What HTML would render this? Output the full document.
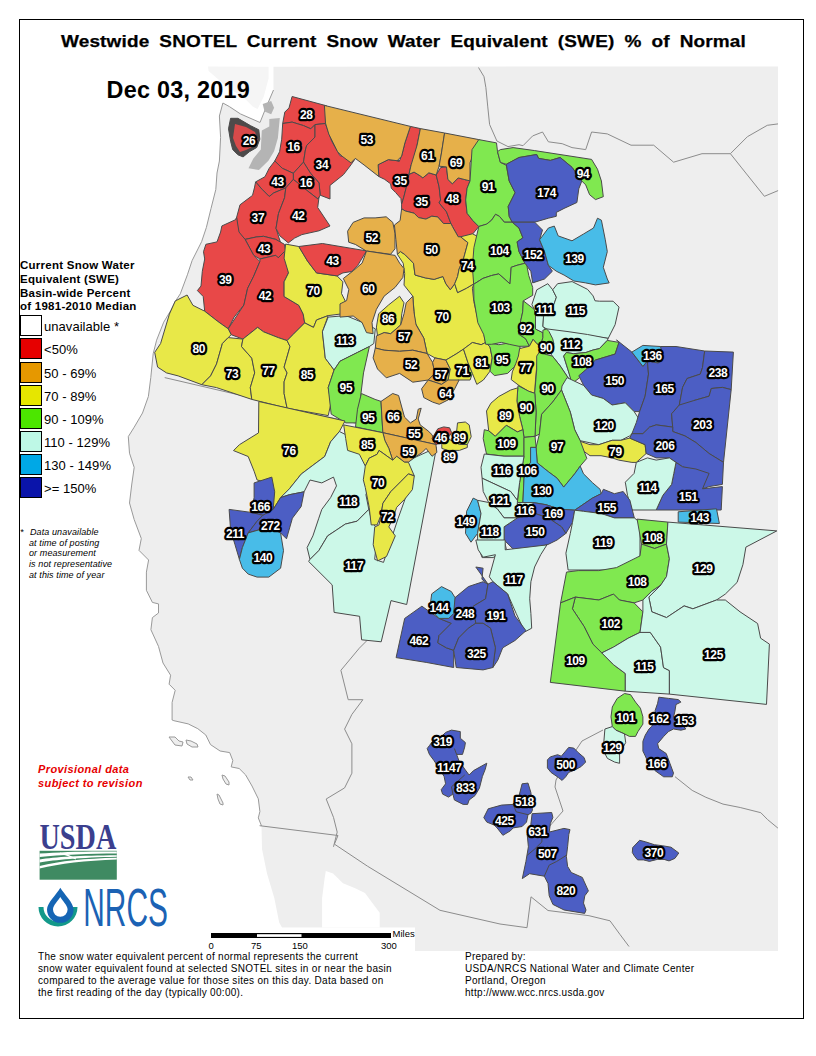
<!DOCTYPE html>
<html><head><meta charset="utf-8">
<style>
html,body{margin:0;padding:0;background:#fff;}
body{width:816px;height:1056px;position:relative;overflow:hidden;font-family:"Liberation Sans",sans-serif;}
.abs{position:absolute;white-space:nowrap;}
#frame{position:absolute;left:19px;top:19px;width:783px;height:998px;border:1px solid #000;}
#title{left:60.5px;top:32px;font-size:16.5px;font-weight:bold;color:#000;transform-origin:0 0;transform:scaleX(1.15);letter-spacing:0.13px;word-spacing:3.98px;-webkit-text-stroke:0.25px #000;}
#date{left:106.5px;top:77.2px;font-size:23.4px;font-weight:bold;color:#000;letter-spacing:0.25px;}
svg#map{position:absolute;left:0;top:0;}
#polys polygon{stroke:#4a4a4a;stroke-width:1;stroke-linejoin:round;}
.r{fill:#e84848}.o{fill:#e6b04a}.y{fill:#e8e848}.g{fill:#80e850}.c{fill:#ccf8e8}.b{fill:#48bce8}.d{fill:#4c5ec4}.u{fill:#f0f0f0}.k{fill:#4e4a4a}#polys polygon.r2{fill:#d84a4a;stroke:none}
#labels text{font-family:"Liberation Sans",sans-serif;font-weight:bold;font-size:12px;fill:#fff;stroke:#000;stroke-width:4.5px;paint-order:stroke;stroke-linejoin:round;text-anchor:middle;letter-spacing:-0.4px;}
.lg{left:20px;font-size:11.5px;font-weight:bold;letter-spacing:0.25px;}
.box{position:absolute;left:20px;width:20px;height:19px;border:1px solid #000;}
.lt{left:44px;font-size:13px;letter-spacing:0.05px;}
.note{font-size:9px;font-style:italic;letter-spacing:0.1px;}
.bt{font-size:10px;letter-spacing:0.3px;}
</style></head><body>
<svg id="map" width="816" height="1056" viewBox="0 0 816 1056">
<g id="land"><polygon points="273.5,66.7 778.0,66.5 778.0,951.0 282.0,951.0 282.0,927.5 279.2,922.5 274.3,898.0 267.0,873.5 262.0,849.0 261.5,825.9 258.3,817.9 259.9,811.5 258.3,798.8 252.0,786.0 245.6,774.9 239.2,768.5 231.2,766.9 232.8,760.5 229.7,752.6 220.1,751.0 210.5,744.6 205.8,735.0 197.8,728.7 188.2,723.9 173.9,720.7 172.1,720.0 172.1,702.4 175.2,690.3 169.1,684.2 170.6,675.2 163.0,663.0 158.5,646.4 150.9,629.7 152.4,617.6 158.5,613.0 158.5,603.9 152.4,602.4 146.4,590.3 146.4,572.1 148.6,560.0 139.0,550.4 141.3,538.5 134.2,519.6 129.5,503.0 131.8,484.0 134.2,467.4 129.5,453.2 128.3,436.6 134.2,427.2 142.5,413.0 148.4,396.4 150.8,377.4 153.2,353.7 156.6,340.2 163.7,322.2 170.8,310.4 175.5,301.0 180.3,293.8 187.4,274.8 192.1,260.6 201.6,241.7 206.4,227.4 211.0,208.5 215.8,189.5 217.0,173.0 219.4,161.0 220.6,137.4 219.4,116.0 222.9,103.0 229.4,106.6 240.4,113.9 260.0,122.5 265.0,110.0 273.5,90.0" fill="#eeeeee"/><polyline points="261.5,825.9 258.3,817.9 259.9,811.5 258.3,798.8 252.0,786.0 245.6,774.9 239.2,768.5 231.2,766.9 232.8,760.5 229.7,752.6 220.1,751.0 210.5,744.6 205.8,735.0 197.8,728.7 188.2,723.9 173.9,720.7 172.1,720.0 172.1,702.4 175.2,690.3 169.1,684.2 170.6,675.2 163.0,663.0 158.5,646.4 150.9,629.7 152.4,617.6 158.5,613.0 158.5,603.9 152.4,602.4 146.4,590.3 146.4,572.1 148.6,560.0 139.0,550.4 141.3,538.5 134.2,519.6 129.5,503.0 131.8,484.0 134.2,467.4 129.5,453.2 128.3,436.6 134.2,427.2 142.5,413.0 148.4,396.4 150.8,377.4 153.2,353.7 156.6,340.2 163.7,322.2 170.8,310.4 175.5,301.0 180.3,293.8 187.4,274.8 192.1,260.6 201.6,241.7 206.4,227.4 211.0,208.5 215.8,189.5 217.0,173.0 219.4,161.0 220.6,137.4 219.4,116.0 222.9,103.0 229.4,106.6 240.4,113.9 260.0,122.5 265.0,110.0 273.5,90.0" fill="none" stroke="#9a9a9a" stroke-width="1"/><polygon points="208.0,66.5 268.6,66.7 268.6,78.4 263.7,96.8 257.6,109.0 252.7,106.6 242.9,96.8 230.6,89.4 218.4,79.6 208.6,71.0" fill="#f5f5f5"/></g><g fill="#b4b4b4"><polygon points="262.7,103.9 271.2,101.1 274.1,107.7 271.2,114.3 264.6,111.5"/><polygon points="269.3,119.0 279.8,118.1 277.9,138.0 274.1,151.2 268.4,160.7 258.9,170.1 248.5,168.3 253.2,158.8 260.8,149.4 261.8,130.4 269.3,126.6"/></g><g fill="none" stroke="#8c8c8c" stroke-width="1"><polyline points="675.0,776.7 692.2,790.4 705.9,797.3 723.0,804.1 740.2,807.5 760.8,812.7 767.6,819.6 777.9,828.1"/><polyline points="164.7,377.6 202.9,386.5 247.1,396.8 285.3,408.5 329.4,417.4 355.9,423.2 390.0,430.6 440.0,441.0"/><polyline points="259.6,825.7 338.0,835.5 334.4,844.1 367.5,866.2 440.0,910.3 500.0,924.0 527.0,927.7 531.0,896.8 548.0,910.5 589.0,915.7 610.0,920.8 620.0,934.5 629.0,946.5"/><polyline points="370.3,637.2 359.3,648.2 340.9,670.3 348.2,699.7 362.9,699.7 351.9,714.4 344.6,729.1 351.9,743.8 351.9,773.2 344.6,787.9 326.2,799.0 333.5,817.4 337.2,832.1 333.5,846.8"/><polyline points="478.5,67.5 484.0,76.7 485.9,87.7 487.7,106.1 489.6,124.5 496.9,141.0 508.0,146.6 519.0,144.7 523.0,145.7 532.7,135.9 542.5,132.0 548.4,141.8 562.2,143.7 572.0,147.6 585.7,149.6 591.6,132.0 607.3,133.9 631.0,145.2 653.7,145.2 673.6,162.2 702.0,153.7 730.4,153.7 747.4,136.7 767.3,125.3 778.0,123.9"/><polyline points="603.0,730.0 582.0,741.0 574.0,753.0 566.0,762.0 556.0,780.0 555.0,787.0 563.0,811.0 548.0,828.0"/><polyline points="730.4,153.7 741.7,167.9 764.4,196.3 778.1,190.6"/></g><polygon points="325.8,871.0 333.1,873.5 343.0,883.3 355.2,888.2 365.0,893.1 372.4,903.0 379.7,912.7 379.7,927.5 322.1,927.5 322.1,898.0 324.6,878.4" fill="#fff"/><rect x="205" y="927.5" width="210" height="24" fill="#fff"/>
<g id="polys"><polygon class="k" points="230.6,118.3 237.9,118.3 250.4,125.6 258.8,129.8 259.8,139.2 256.7,147.5 249.4,151.7 243.1,156.9 237.9,154.8 232.7,149.6 230.6,141.2 228.5,128.8"/>
<polygon class="r2" points="235.0,124.0 246.0,127.0 255.0,132.0 258.0,140.0 254.0,146.0 246.0,150.0 240.0,152.0 236.0,146.0 233.0,138.0"/>
<polygon class="r" points="292.1,96.5 326.5,105.8 325.4,123.5 315.0,124.6 310.8,128.8 303.5,125.6 292.1,122.1 282.7,123.5 284.8,112.1 289.0,107.9"/>
<polygon class="r" points="282.7,123.5 292.1,122.1 303.5,125.6 310.8,128.8 315.0,124.6 315.0,137.1 306.7,145.4 305.4,150.0 303.5,162.1 293.3,173.3 282.3,168.3 274.8,161.0 279.6,151.7 281.7,139.2"/>
<polygon class="r" points="315.0,124.6 325.4,123.5 331.7,141.2 340.0,155.8 355.8,157.9 351.0,164.8 343.5,174.6 330.0,185.4 330.0,199.0 320.2,195.2 319.0,182.9 310.4,173.1 303.5,162.1 305.4,150.0 306.7,145.4 315.0,137.1"/>
<polygon class="r" points="293.3,173.3 303.5,162.1 310.4,173.1 319.0,182.9 320.2,195.2 317.9,199.0 306.9,190.4 293.3,179.4"/>
<polygon class="r" points="274.8,161.0 282.3,168.3 293.3,173.3 293.3,179.4 285.8,187.9 273.8,192.9 269.2,196.5 261.9,189.2 255.6,181.9 265.0,176.7 269.2,168.3"/>
<polygon class="r" points="255.6,181.9 261.9,189.2 269.2,196.5 273.8,192.9 285.8,187.9 284.6,197.7 278.5,213.5 276.0,228.3 280.7,243.1 275.8,239.4 263.5,236.3 256.2,237.0 245.1,239.4 237.8,232.0 236.6,217.4 240.0,204.8 252.5,195.4 254.6,187.1"/>
<polygon class="r" points="293.3,179.4 306.9,190.4 317.9,199.0 319.0,197.3 317.7,207.5 330.0,226.0 319.0,230.8 301.9,234.6 294.6,238.1 288.3,242.9 279.8,235.8 276.0,228.3 278.5,213.5 284.6,197.7 285.8,187.9"/>
<polygon class="r" points="245.1,239.4 253.7,255.3 259.9,259.0 275.8,255.3 278.2,257.8 285.6,250.4 284.4,244.3 275.8,239.4 263.5,236.3 256.2,237.0"/>
<polygon class="r" points="236.6,217.4 239.0,232.0 245.1,239.4 253.7,255.3 259.9,261.5 253.7,276.2 247.6,288.4 243.9,305.0 234.1,317.1 228.2,328.8 217.9,321.5 204.7,311.2 203.2,296.5 197.4,290.6 201.0,286.0 202.3,271.3 204.7,259.0 203.5,251.7 205.9,244.3 217.0,241.9 220.6,232.0 221.9,225.9 235.3,219.8"/>
<polygon class="r" points="259.9,259.0 275.8,255.3 278.2,257.8 285.6,250.4 288.5,272.9 284.1,281.8 284.1,296.5 298.8,305.3 303.2,314.1 304.7,322.9 292.9,334.7 287.1,340.6 278.2,337.6 263.5,331.8 257.6,327.4 242.9,339.1 231.2,334.7 228.2,328.8 243.9,305.0 247.6,288.4 253.7,276.2 259.9,261.5"/>
<polygon class="y" points="285.6,244.1 298.8,246.5 307.6,261.2 316.5,272.9 337.1,275.9 342.9,281.8 341.5,293.5 347.4,305.3 340.0,314.1 328.2,315.6 316.5,320.0 313.5,327.4 304.7,322.9 303.2,314.1 298.8,305.3 284.1,296.5 284.1,281.8 288.5,272.9 284.1,258.2"/>
<polygon class="r" points="298.8,246.5 322.4,243.5 366.5,250.9 357.6,265.6 351.8,271.5 342.9,272.9 337.1,275.9 316.5,272.9 307.6,261.2"/>
<polygon class="y" points="175.3,300.9 187.1,295.0 192.9,305.3 204.7,311.2 217.9,321.5 228.2,328.8 231.2,334.7 228.2,337.6 222.4,343.5 216.5,364.1 210.6,375.9 201.8,384.7 178.2,375.9 166.5,372.9 157.6,367.1 154.7,352.4 160.6,343.5 169.4,314.1"/>
<polygon class="y" points="228.2,337.6 242.9,339.1 241.5,346.5 251.8,358.2 254.7,372.9 250.3,387.6 251.8,399.4 216.5,387.6 201.8,384.7 210.6,375.9 216.5,364.1 222.4,343.5"/>
<polygon class="y" points="242.9,339.1 257.6,327.4 263.5,331.8 278.2,337.6 287.1,340.6 290.0,346.5 284.1,367.1 287.1,372.9 284.1,381.8 284.1,393.5 287.1,408.2 251.8,399.4 250.3,387.6 254.7,372.9 251.8,358.2 241.5,346.5"/>
<polygon class="y" points="287.1,340.6 292.9,334.7 304.7,322.9 313.5,327.4 316.5,320.0 328.2,315.6 322.4,331.8 325.3,358.2 334.1,370.0 328.2,387.6 331.2,402.4 328.2,415.6 287.1,408.2 284.1,393.5 284.1,381.8 287.1,372.9 284.1,367.1 290.0,346.5"/>
<polygon class="c" points="328.2,317.1 345.9,315.6 363.5,322.9 375.3,328.8 373.8,343.5 369.4,346.5 357.6,352.4 340.0,361.2 334.1,370.0 325.3,358.2 322.4,331.8"/>
<polygon class="g" points="334.1,370.0 340.0,361.2 357.6,352.4 369.4,346.5 363.5,372.9 360.6,396.5 357.6,422.9 345.9,422.9 331.2,414.1 328.2,387.6"/>
<polygon class="r" points="410.4,126.4 420.4,128.6 417.1,145.1 413.8,162.8 411.2,164.7 409.0,174.3 406.8,185.3 403.8,197.1 401.6,204.4 400.9,198.5 395.7,192.6 391.3,188.2 390.6,183.8 384.7,179.4 378.8,176.5 378.1,164.7 388.4,159.6 399.4,161.0 401.6,155.9 404.9,142.9"/>
<polygon class="o" points="324.4,105.4 410.4,126.4 404.9,142.9 401.6,156.2 397.2,160.6 399.4,161.0 388.4,159.6 378.1,164.7 378.8,176.5 364.1,165.0 355.3,158.4 350.9,162.8 342.1,156.2 337.6,151.8 333.2,142.9 328.8,134.1 325.5,123.1"/>
<polygon class="r" points="409.0,174.3 414.1,172.1 420.0,175.7 422.9,177.9 428.8,172.8 436.2,175.0 439.1,186.8 440.6,200.0 439.1,202.9 446.5,211.8 450.9,223.5 443.5,223.5 437.6,216.9 431.8,216.2 425.9,219.1 418.5,217.6 414.1,213.2 405.3,211.0 401.6,208.8 401.6,204.4 403.8,197.1 406.8,185.3"/>
<polygon class="r" points="436.2,175.0 440.6,167.6 446.5,166.9 447.9,179.4 452.4,183.8 458.2,177.9 464.1,179.4 470.0,180.9 467.1,188.2 465.6,200.0 467.1,213.2 472.9,220.6 478.8,226.5 472.9,233.8 465.6,236.8 458.2,236.8 452.4,226.5 450.9,223.5 446.5,211.8 439.1,202.9 440.6,200.0 439.1,186.8"/>
<polygon class="o" points="420.4,128.6 444.6,133.0 441.3,154.0 439.1,166.2 436.2,175.0 428.8,172.8 422.9,177.9 420.0,175.7 414.1,172.1 409.0,174.3 411.2,164.7 417.1,145.1"/>
<polygon class="o" points="444.6,133.0 478.8,139.6 474.4,151.8 470.0,162.8 470.0,180.9 464.1,179.4 458.2,177.9 452.4,183.8 447.9,179.4 446.5,166.9 439.1,166.2 441.3,154.0"/>
<polygon class="o" points="347.6,231.2 353.1,222.4 364.1,217.9 375.1,217.9 386.2,216.8 392.8,222.4 395.0,233.4 395.0,248.8 390.6,254.3 366.3,251.0 355.3,244.4 348.7,242.2"/>
<polygon class="y" points="397.4,254.4 400.3,251.5 404.7,254.4 413.5,263.2 415.0,275.0 425.3,277.9 434.1,279.4 442.9,276.5 445.9,283.8 450.3,289.7 454.7,283.8 457.6,292.6 466.5,288.2 473.8,283.8 472.4,288.2 473.8,301.5 478.2,320.6 482.6,327.9 485.6,342.6 485.6,342.5 481.2,344.7 472.4,342.5 463.5,349.1 456.9,353.5 445.9,360.1 434.9,357.9 427.1,353.5 423.8,338.1 415.0,322.6 412.8,296.2 404.0,285.1 404.7,273.5 403.2,263.2"/>
<polygon class="o" points="401.6,208.8 405.3,211.0 414.1,213.2 418.5,217.6 425.9,219.1 431.8,216.2 437.6,216.9 443.5,223.5 450.9,223.5 452.4,226.5 458.2,236.8 460.6,236.8 467.9,242.6 463.5,258.8 459.1,269.1 457.6,276.5 454.7,283.8 450.3,289.7 445.9,283.8 442.9,276.5 434.1,279.4 425.3,277.9 415.0,275.0 413.5,263.2 404.7,254.4 400.3,251.5 397.4,254.4 395.9,239.7 394.4,225.0 400.1,220.6"/>
<polygon class="y" points="460.6,236.8 472.4,233.8 481.2,238.2 479.7,254.4 478.2,270.6 482.6,277.9 473.8,283.8 466.5,288.2 457.6,292.6 454.7,283.8 457.6,276.5 459.1,269.1 463.5,258.8 467.9,242.6"/>
<polygon class="o" points="366.5,251.0 395.1,255.4 399.6,263.1 404.0,268.6 402.9,277.4 395.1,287.4 384.1,296.2 376.4,309.4 372.0,322.6 373.1,333.7 366.5,332.6 362.1,322.6 353.2,316.0 340.0,317.1 340.0,303.9 346.6,300.6 348.8,289.6 343.3,278.5 353.2,270.8 362.1,263.1"/>
<polygon class="y" points="399.6,296.2 404.0,302.8 401.8,313.8 400.7,324.9 390.7,333.7 384.1,332.6 377.5,335.9 376.4,327.1 378.6,313.8 388.5,305.0"/>
<polygon class="o" points="412.8,296.2 413.9,311.6 416.1,324.9 423.8,338.1 427.1,353.5 412.8,350.2 399.6,351.3 384.1,350.2 375.3,348.0 376.4,335.9 384.1,332.6 390.7,333.7 400.7,324.9 404.0,313.8 406.2,302.8"/>
<polygon class="o" points="375.3,348.0 384.1,350.2 399.6,351.3 412.8,350.2 427.1,353.5 432.6,362.4 434.9,373.4 428.2,380.0 412.8,382.2 399.6,373.4 386.3,377.8 377.5,369.0 373.1,357.9"/>
<polygon class="o" points="434.9,357.9 445.9,360.1 450.3,369.0 448.1,380.0 441.5,384.4 434.9,382.2 428.2,380.0 434.9,373.4 432.6,362.4"/>
<polygon class="y" points="445.9,360.1 456.9,353.5 463.5,349.1 467.9,362.4 472.4,373.4 470.1,380.0 459.1,380.0 450.3,382.2 448.1,380.0 450.3,369.0"/>
<polygon class="o" points="428.2,380.0 434.9,382.2 441.5,384.4 448.1,380.0 459.1,380.0 454.7,388.8 448.1,399.9 439.3,404.3 432.6,402.1 423.8,397.6 421.6,388.8"/>
<polygon class="y" points="472.4,342.5 481.2,344.7 485.6,342.5 490.0,346.9 492.2,357.9 490.0,371.2 483.4,380.0 476.8,384.4 472.4,373.4 467.9,362.4 463.5,349.1"/>
<polygon class="g" points="485.6,342.5 498.8,344.7 512.1,342.5 520.0,344.7 520.0,357.9 514.3,366.8 507.6,373.4 494.4,375.6 490.0,371.2 492.2,357.9 490.0,346.9"/>
<polygon class="g" points="478.8,139.6 496.5,142.9 497.5,151.6 500.4,162.4 506.3,165.3 509.2,181.0 515.1,192.7 508.2,206.5 509.2,216.3 512.2,222.2 504.3,222.2 499.4,216.3 495.5,214.3 491.6,220.2 486.7,224.1 478.8,226.5 472.9,220.6 467.1,213.3 465.7,200.0 467.1,188.2 470.0,181.0 472.0,149.6"/>
<polygon class="g" points="500.4,149.6 513.1,147.6 534.7,150.6 591.6,159.4 597.5,169.2 601.4,181.0 603.3,196.7 595.5,199.6 589.6,194.7 585.7,184.9 581.8,181.0 572.0,167.3 560.2,157.5 550.4,160.4 538.6,158.4 536.7,154.5 519.0,157.5 506.3,164.3 500.4,162.4 497.5,151.6"/>
<polygon class="d" points="506.3,164.3 519.0,157.5 536.7,154.5 538.6,158.4 550.4,160.4 560.2,157.5 572.0,167.3 581.8,181.0 578.8,188.8 576.9,202.5 564.1,208.4 556.3,212.4 556.3,216.3 548.4,218.2 534.7,222.2 521.0,222.2 512.2,222.2 509.2,216.3 508.2,206.5 515.1,192.7 509.2,181.0"/>
<polygon class="g" points="478.8,226.5 486.7,224.1 491.6,220.2 495.5,214.3 499.4,216.3 504.3,222.2 512.2,222.2 519.0,228.0 522.9,237.8 517.1,241.8 519.0,251.6 524.9,263.3 517.1,265.3 511.2,267.3 510.0,283.9 498.8,273.9 491.6,275.5 482.9,278.4 473.7,284.3 472.4,267.3 473.9,247.6"/>
<polygon class="d" points="512.2,222.2 521.0,222.2 534.7,222.2 542.5,230.0 539.6,239.8 544.5,251.6 548.4,265.3 552.4,271.2 544.5,279.0 532.7,282.9 530.8,271.2 524.9,263.3 519.0,251.6 517.1,241.8 522.9,237.8 519.0,228.0"/>
<polygon class="b" points="539.6,239.8 548.4,228.0 554.3,226.1 558.2,235.9 572.0,240.8 583.7,233.9 593.5,228.0 597.5,218.2 601.4,220.2 605.3,239.8 607.3,251.6 603.3,267.3 607.3,279.0 609.2,282.9 595.5,284.9 585.7,282.9 573.9,281.0 564.1,275.1 556.3,271.2 548.4,265.3 544.5,251.6"/>
<polygon class="g" points="473.7,284.3 482.9,278.4 491.6,275.5 498.8,273.9 510.0,283.9 511.2,267.3 517.0,265.3 524.9,263.3 526.9,265.9 528.8,275.7 532.7,287.5 532.7,295.3 523.3,300.8 522.7,311.9 520.8,320.4 518.4,333.9 525.7,338.8 529.4,346.2 519.0,346.3 509.2,344.3 501.4,342.4 491.6,344.3 485.7,344.3 483.7,334.5 477.8,322.7 473.9,299.2"/>
<polygon class="g" points="523.3,300.8 534.3,309.4 535.5,315.5 535.5,329.0 542.9,332.7 542.9,337.6 540.4,346.2 536.8,343.7 533.1,339.4 529.4,346.2 525.7,338.8 518.4,333.9 520.8,320.4 522.7,311.9"/>
<polygon class="c" points="536.8,289.8 547.8,283.7 552.7,289.8 556.4,297.2 553.9,304.5 546.6,309.4 543.5,316.8 542.9,326.6 546.6,329.0 542.9,332.7 535.5,329.0 535.5,315.5 534.3,309.4 531.9,304.5"/>
<polygon class="c" points="552.7,289.8 557.6,283.7 572.1,281.6 587.6,289.4 593.1,295.9 595.0,300.8 599.4,301.2 613.1,301.2 619.0,307.1 615.1,324.7 608.2,338.4 549.0,330.2 546.6,329.0 542.9,326.6 543.5,316.8 546.6,309.4 553.9,304.5 556.4,297.2"/>
<polygon class="c" points="544.5,328.6 568.0,331.6 587.6,334.5 608.2,338.4 607.3,340.4 599.4,348.6 593.1,350.0 585.9,352.5 573.5,353.7 566.3,352.5 563.7,356.1 568.0,369.8 572.0,381.6 568.0,377.6 560.2,365.9 552.4,356.1 548.4,350.2 544.5,340.4"/>
<polygon class="g" points="563.7,356.1 566.3,352.5 573.5,353.7 585.9,352.5 593.1,350.0 599.4,348.6 607.3,340.4 619.0,342.4 615.1,354.1 595.5,360.0 585.7,369.8 579.8,377.6 572.0,383.5 568.0,369.8"/>
<polygon class="d" points="616.5,339.9 631.9,352.1 642.9,366.4 647.4,360.9 648.5,374.1 645.1,396.2 639.6,411.6 634.1,411.6 625.3,402.8 612.1,405.0 603.2,398.4 591.6,395.3 583.7,385.5 578.8,375.7 585.7,369.8 595.5,360.0 615.1,354.1 619.0,342.4"/>
<polygon class="g" points="542.9,330.2 546.6,329.0 549.0,331.5 552.7,338.8 553.9,343.7 551.5,351.1 546.6,354.8 542.9,353.5 540.4,346.2 542.9,337.6"/>
<polygon class="y" points="529.4,346.2 533.1,339.4 536.8,343.7 540.4,346.2 539.2,353.5 536.8,365.8 535.5,380.0 534.7,393.3 528.8,391.4 519.0,385.5 511.2,379.6 512.3,371.9 515.9,363.3 518.4,356.0 519.6,348.6"/>
<polygon class="g" points="536.7,356.1 540.6,350.2 544.5,354.1 552.4,356.1 560.2,365.9 568.0,377.6 572.0,383.5 568.0,397.3 561.5,390.0 552.6,402.1 541.6,414.3 539.4,434.1 535.0,436.3 536.1,412.1 534.8,393.3 534.7,393.3 536.7,369.8"/>
<polygon class="g" points="518.0,385.6 528.8,391.3 534.8,393.3 536.1,412.1 535.0,436.3 524.0,437.4 522.9,429.7 519.6,416.5 516.9,401.0"/>
<polygon class="y" points="490.9,403.2 498.6,396.6 510.7,390.0 517.8,387.8 516.9,401.0 519.6,416.5 522.9,429.7 517.4,431.9 506.3,425.3 495.3,436.3 488.7,430.8 486.5,411.0"/>
<polygon class="b" points="631.9,352.1 642.9,345.4 660.6,346.5 676.0,346.5 662.8,358.7 658.4,363.1 647.4,360.9 642.9,366.4"/>
<polygon class="c" points="567.0,377.6 583.7,385.5 591.6,395.0 603.2,398.4 612.1,405.0 625.3,402.8 634.1,411.6 638.5,418.2 636.3,429.3 629.7,435.9 620.9,440.3 612.1,440.3 598.8,444.7 580.2,440.7 574.7,429.7 570.3,412.1 561.5,390.0 562.0,386.0"/>
<polygon class="y" points="579.4,441.0 590.0,444.7 598.8,444.7 612.1,440.3 620.9,440.3 629.7,438.1 645.1,444.7 646.2,453.5 636.3,462.4 631.9,462.4 618.7,460.1 612.1,457.9 601.0,455.7 590.0,455.7 582.4,450.3"/>
<polygon class="d" points="660.6,346.5 676.0,346.5 704.7,351.0 702.5,367.5 700.3,374.1 687.1,378.5 682.6,387.4 679.3,405.0 671.6,413.8 672.7,427.1 656.2,424.9 649.6,427.1 642.9,433.7 631.9,433.7 636.3,422.6 639.6,411.6 645.1,396.2 648.5,374.1 647.4,360.9 658.4,363.1 662.8,358.7"/>
<polygon class="d" points="704.7,351.0 733.4,352.1 731.2,389.6 722.4,387.4 711.3,388.5 709.1,396.2 693.7,400.6 682.6,409.4 679.3,405.0 682.6,387.4 687.1,378.5 700.3,374.1 702.5,367.5"/>
<polygon class="d" points="679.3,405.0 693.7,400.6 709.1,396.2 711.3,388.5 722.4,387.4 731.2,389.6 723.5,462.4 709.1,453.5 695.9,442.5 684.9,435.9 672.7,431.5 672.7,427.1 671.6,413.8"/>
<polygon class="d" points="631.9,433.7 642.9,433.7 649.6,427.1 656.2,424.9 672.7,427.1 672.7,431.5 684.9,435.9 695.9,442.5 709.1,453.5 723.5,462.4 722.4,484.4 709.1,486.6 702.5,488.8 706.9,473.4 695.9,471.2 682.6,466.8 676.0,462.4 669.4,457.9 656.2,457.9 646.2,453.5 645.1,444.7 629.7,438.1"/>
<polygon class="d" points="676.0,462.4 682.6,466.8 695.9,469.0 709.1,473.4 702.5,488.8 722.4,486.6 721.2,510.0 687.1,510.0 656.2,510.0 662.8,495.4 671.6,484.4 673.8,473.4"/>
<polygon class="c" points="636.3,462.4 647.4,457.9 656.2,460.1 669.4,457.9 676.0,462.4 673.8,473.4 671.6,484.4 662.8,495.4 656.2,510.0 631.9,510.0 627.5,495.4 625.3,482.2 634.1,473.4"/>
<polygon class="g" points="484.3,429.7 488.7,430.8 495.3,436.3 506.3,425.3 517.4,431.9 522.9,429.7 524.0,437.4 524.0,456.2 504.1,456.2 486.5,454.0 483.2,438.5"/>
<polygon class="g" points="552.6,402.1 561.5,390.0 570.3,412.1 574.7,429.7 580.2,440.7 586.8,458.4 580.2,466.1 574.7,473.8 563.7,487.1 557.1,478.2 548.2,471.6 537.2,462.8 536.1,447.4 539.4,434.1 541.6,414.3"/>
<polygon class="g" points="524.0,437.4 535.0,436.3 536.1,447.4 530.6,447.4 530.6,462.8 526.2,467.2 524.0,478.2 522.9,502.5 517.4,502.5 519.6,482.6 524.0,456.2"/>
<polygon class="b" points="530.6,447.4 536.1,447.4 537.2,462.8 548.2,471.6 557.1,478.2 563.7,487.1 574.7,473.8 580.2,466.1 583.5,473.8 592.4,482.6 600.1,489.3 601.2,493.7 592.4,498.1 574.7,510.2 559.3,509.1 546.0,504.7 532.8,502.5 522.9,502.5 524.0,478.2 526.2,467.2 530.6,462.8"/>
<polygon class="d" points="574.7,510.2 592.4,498.1 601.2,493.7 603.4,489.3 614.4,493.7 623.2,491.5 629.9,500.3 634.3,517.9 614.4,517.9 601.2,513.5 583.5,511.3"/>
<polygon class="c" points="484.3,454.0 504.1,456.2 524.0,456.2 519.6,482.6 517.4,500.3 510.7,491.5 482.1,478.2 481.0,467.2"/>
<polygon class="c" points="482.1,478.2 510.7,491.5 517.4,500.3 517.4,517.9 504.1,517.9 497.5,509.1 488.7,502.5 483.2,491.5"/>
<polygon class="c" points="517.4,502.5 532.8,502.5 535.0,506.9 526.2,515.7 517.4,517.9"/>
<polygon class="d" points="532.8,502.5 546.0,504.7 559.3,509.1 574.7,510.2 572.5,522.4 565.9,533.4 561.5,526.8 548.2,517.9 535.0,513.5"/>
<polygon class="d" points="504.1,526.8 517.4,517.9 526.2,515.7 535.0,513.5 548.2,517.9 561.5,526.8 565.9,533.4 557.1,540.0 548.2,544.4 532.8,548.8 524.0,553.2 512.9,548.8 504.1,540.0"/>
<polygon class="b" points="466.6,511.3 473.2,498.1 477.6,500.3 481.0,513.5 477.6,533.4 471.0,542.2 465.5,533.4"/>
<polygon class="c" points="477.6,500.3 488.7,502.5 497.5,509.1 504.1,517.9 517.4,517.9 504.1,526.8 504.1,540.0 506.3,548.8 493.1,557.6 482.1,557.6 477.6,544.4 477.6,533.4 481.0,513.5"/>
<polygon class="c" points="574.7,510.2 583.5,511.3 601.2,513.5 614.4,517.9 634.3,517.9 640.0,522.4 640.0,562.1 625.4,564.3 618.8,570.0 568.1,570.0 565.9,553.2 570.3,533.4 572.5,522.4"/>
<polygon class="c" points="475.8,540.0 505.2,540.0 505.2,549.8 546.9,544.9 540.7,554.7 534.6,567.0 530.9,581.7 529.7,598.8 530.9,613.5 531.7,628.2 524.8,631.9 516.2,613.5 507.6,593.9 492.9,581.7 489.3,576.8 495.4,554.7 483.1,557.2 478.2,549.8"/>
<polygon class="d" points="396.1,657.6 404.7,618.4 421.9,606.2 439.0,618.4 451.3,623.3 439.0,635.6 437.8,642.9 446.4,647.8 453.7,650.3 453.7,667.5 426.8,662.5"/>
<polygon class="d" points="439.0,618.4 448.8,618.4 455.0,597.6 468.4,586.6 475.8,584.1 483.1,581.7 488.0,584.1 485.6,598.8 473.3,606.2 475.8,623.3 468.4,628.2 458.6,638.0 453.7,650.3 446.4,647.8 437.8,642.9 439.0,635.6 451.3,623.3"/>
<polygon class="b" points="431.7,593.9 441.5,586.6 451.3,591.5 455.0,597.6 453.7,613.5 448.8,618.4 439.0,618.4 434.1,613.5 430.4,603.7"/>
<polygon class="d" points="475.8,567.0 483.1,568.2 481.9,579.2 488.0,584.1 492.9,581.7 507.6,593.9 515.0,616.0 526.0,630.7 515.0,640.5 502.7,647.8 497.8,660.1 492.9,667.5 495.4,647.8 490.5,628.2 483.1,623.3 475.8,623.3 473.3,606.2 485.6,598.8 488.0,584.1"/>
<polygon class="d" points="453.7,650.3 458.6,638.0 468.4,628.2 475.8,623.3 483.1,623.3 490.5,628.2 495.4,647.8 492.9,667.5 483.1,669.9 456.2,667.5"/>
<polygon class="b" points="678.2,511.8 716.5,508.8 719.4,523.5 678.2,522.1"/>
<polygon class="g" points="637.1,519.1 667.9,522.1 666.5,544.1 654.7,548.5 641.5,544.1"/>
<polygon class="g" points="566.5,572.1 578.2,570.6 598.8,570.6 616.5,567.6 640.0,555.9 641.5,544.1 654.7,548.5 666.5,544.1 669.4,558.8 666.5,576.5 660.6,585.3 651.8,591.2 642.9,600.0 634.1,602.9 619.4,600.0 613.5,594.1 598.8,600.0 575.3,597.1 560.6,602.9"/>
<polygon class="g" points="575.3,597.1 598.8,600.0 613.5,594.1 619.4,600.0 634.1,602.9 642.9,611.8 640.0,632.4 628.2,638.2 613.5,647.1 601.8,652.9 592.9,644.1 584.1,626.5 572.4,608.8"/>
<polygon class="g" points="560.6,602.9 575.3,597.1 572.4,608.8 584.1,626.5 592.9,644.1 601.8,652.9 613.5,664.7 625.3,673.5 625.3,691.2 550.3,682.4"/>
<polygon class="c" points="601.8,652.9 613.5,647.1 628.2,638.2 640.0,632.4 650.3,632.4 660.6,647.1 663.5,667.6 669.4,670.6 669.4,694.1 625.3,691.2 625.3,673.5 613.5,664.7"/>
<polygon class="c" points="667.9,522.1 776.8,530.9 745.9,547.1 742.9,564.7 737.1,582.4 725.3,594.1 716.5,600.0 692.9,608.8 684.1,605.9 666.5,617.6 651.8,611.8 648.8,597.1 660.6,585.3 666.5,576.5 669.4,558.8 666.5,544.1"/>
<polygon class="c" points="642.9,600.0 651.8,591.2 660.6,585.3 648.8,597.1 651.8,611.8 666.5,617.6 684.1,605.9 692.9,608.8 716.5,600.0 725.3,600.0 740.0,611.8 757.6,623.5 760.6,638.2 769.4,644.1 766.5,704.4 669.4,694.1 669.4,670.6 663.5,667.6 660.6,647.1 650.3,632.4 640.0,632.4 642.9,611.8"/>
<polygon class="g" points="624.5,693.5 630.6,694.7 635.5,702.1 640.4,708.2 642.9,716.8 642.9,724.1 638.0,731.5 635.5,736.4 629.4,736.4 624.5,733.9 615.9,730.2 612.3,726.6 611.0,716.8 612.3,707.0 617.2,698.4"/>
<polygon class="d" points="445.6,732.4 451.5,730.1 460.3,731.6 460.3,738.2 465.4,742.6 464.7,747.1 462.5,754.4 456.6,754.4 458.8,760.3 464.7,769.1 469.1,775.0 473.5,770.6 486.8,763.2 485.3,769.1 482.4,776.5 479.4,788.2 475.0,795.6 469.1,800.0 467.6,804.4 463.2,804.4 454.4,800.0 452.9,794.1 448.5,797.1 442.6,794.1 441.2,789.7 445.6,783.8 444.1,776.5 439.7,769.1 433.8,760.3 429.4,754.4 427.2,748.5 429.4,745.6 433.8,739.7 441.2,736.8"/>
<polygon class="d" points="547.4,759.9 550.3,756.9 557.6,754.7 561.3,756.2 565.0,751.8 568.7,747.4 573.8,748.1 578.2,752.5 584.1,757.6 585.6,762.1 581.2,766.5 576.0,769.4 568.7,772.4 565.7,776.8 562.1,780.4 558.4,777.5 551.0,772.4 547.4,767.9"/>
<polygon class="d" points="483.8,817.6 488.2,808.8 501.5,805.1 513.2,804.4 519.1,795.6 522.1,783.8 528.0,783.1 530.9,792.6 532.4,810.3 530.9,813.2 528.0,814.7 526.5,822.1 522.1,826.5 513.2,827.9 510.3,830.9 502.9,835.3 497.1,827.9 494.1,825.0 486.8,822.1"/>
<polygon class="d" points="532.1,813.7 551.7,812.5 552.9,817.4 550.4,823.5 549.2,832.1 563.9,828.4 570.0,829.6 568.8,834.5 567.6,846.8 566.4,856.6 567.6,866.4 571.3,872.5 582.3,877.4 588.4,890.9 584.8,895.8 583.5,903.1 586.0,910.0 584.7,913.4 564.1,910.0 552.9,904.4 549.2,895.8 548.0,883.5 544.3,876.2 529.6,873.7 522.3,878.6 525.9,861.5 528.4,846.8 527.2,834.5 530.8,824.7"/>
<polygon class="d" points="632.7,847.6 639.6,840.3 645.5,841.8 654.3,844.7 662.2,845.7 671.0,847.2 678.8,853.0 674.9,858.4 669.0,860.9 664.1,859.4 657.3,859.4 649.4,861.4 643.5,859.9 637.6,859.9 634.7,856.5 632.3,852.5"/>
<polygon class="c" points="604.9,729.0 612.3,726.6 615.9,730.2 624.5,733.9 625.7,742.5 619.6,753.5 619.6,763.3 614.7,762.1 607.4,758.4 604.9,753.5 603.7,743.7"/>
<polygon class="d" points="658.8,697.2 668.6,698.4 678.4,699.6 680.9,702.1 676.0,704.5 674.8,711.9 673.5,716.8 678.4,720.4 685.8,729.0 680.9,730.2 673.5,729.0 668.6,731.5 663.7,736.4 657.6,743.7 658.8,748.6 666.2,753.5 669.9,763.3 673.5,773.1 672.3,776.8 663.7,776.8 655.1,770.7 649.0,764.6 645.3,756.0 642.9,751.1 642.9,741.3 645.3,735.1 649.0,729.0 651.5,726.6 656.4,719.2 655.1,710.6 657.6,703.3"/>
<polygon class="y" points="258.8,401.5 345.0,421.0 339.4,431.5 330.6,441.8 324.7,456.5 312.9,465.3 301.2,474.1 289.4,488.8 280.6,497.6 273.2,509.4 271.8,491.8 268.8,482.9 257.1,480.0 254.1,471.2 248.2,456.5 233.5,450.6 239.4,444.7 258.5,432.9"/>
<polygon class="c" points="339.4,431.5 354.1,438.8 360.0,453.5 368.8,468.2 371.8,480.0 365.9,494.7 368.8,509.4 357.1,521.2 345.3,524.1 336.5,530.0 327.6,535.9 318.8,550.6 310.0,559.4 307.1,547.6 312.9,535.9 318.8,518.2 321.8,509.4 330.6,497.6 336.5,485.9 333.5,477.1 321.8,482.9 310.0,480.0 304.1,491.8 289.4,494.7 280.6,497.6 289.4,488.8 301.2,474.1 312.9,465.3 324.7,456.5 330.6,441.8"/>
<polygon class="d" points="254.1,482.9 271.8,477.1 274.7,491.8 273.2,509.4 262.9,515.3 251.2,512.4 254.1,497.6"/>
<polygon class="d" points="229.1,509.4 251.2,512.4 262.9,515.3 257.1,521.2 248.2,532.9 242.4,547.6 239.4,559.4 235.0,544.7 230.6,530.0"/>
<polygon class="d" points="262.9,515.3 273.2,509.4 280.6,497.6 289.4,494.7 304.1,491.8 301.2,506.5 292.4,518.2 286.5,538.8 280.6,532.9 268.8,527.1 248.2,532.9 257.1,521.2"/>
<polygon class="b" points="248.2,532.9 268.8,527.1 280.6,532.9 283.5,550.6 280.6,568.2 268.8,577.1 257.1,577.1 248.2,574.1 242.4,568.2 239.4,559.4 242.4,547.6"/>
<polygon class="c" points="310.0,559.4 318.8,550.6 327.6,535.9 336.5,530.0 345.3,524.1 357.1,521.2 368.8,509.4 371.8,521.2 377.6,530.0 374.7,559.4 383.5,562.4 398.2,518.2 412.9,477.1 404.1,462.4 436.5,447.6 406.7,604.5 391.0,600.6 381.2,641.8 361.6,639.8 359.6,616.3 334.1,612.4 332.2,584.9 308.6,561.4"/>
<polygon class="g" points="361.4,393.5 375.1,399.4 381.0,401.4 382.0,419.0 382.9,432.7 355.5,426.9 357.5,409.2"/>
<polygon class="o" points="381.0,401.4 392.7,393.5 398.6,395.5 404.5,417.1 410.4,422.9 416.3,419.0 418.2,409.2 421.2,408.2 418.2,419.0 420.2,424.9 428.0,430.8 432.0,434.7 435.9,444.5 382.9,432.7 382.0,419.0"/>
<polygon class="o" points="382.9,432.7 435.9,444.5 436.9,452.4 432.0,456.3 426.1,448.4 422.2,452.4 416.3,456.3 408.4,462.2 404.5,462.2 396.7,456.3 392.7,460.2 388.8,448.4 384.9,440.6"/>
<polygon class="r" points="432.0,438.6 437.8,428.8 443.7,426.9 449.6,427.8 451.6,432.7 447.6,438.6 441.8,442.5 435.9,444.5"/>
<polygon class="y" points="457.5,422.9 465.3,422.0 469.2,424.9 471.2,436.7 467.3,444.5 459.4,444.5 455.5,442.5"/>
<polygon class="y" points="441.8,442.5 447.6,438.6 455.5,442.5 459.4,444.5 467.3,444.5 467.3,447.5 459.4,450.4 447.6,450.4 441.8,448.4"/>
<polygon class="y" points="343.7,424.9 382.9,432.7 384.9,440.6 388.8,448.4 392.7,460.2 379.0,450.4 377.1,454.3 369.2,458.2 365.3,466.1 359.4,454.3 347.6,450.4 345.7,438.6"/>
<polygon class="y" points="365.3,466.1 369.2,458.2 377.1,454.3 379.0,450.4 392.7,460.2 396.7,456.3 404.5,462.2 408.4,462.2 414.3,475.9 408.4,473.9 400.6,481.8 390.8,491.6 382.9,503.3 381.0,515.1 377.1,524.9 371.2,524.9 369.2,507.3 365.3,487.6 363.3,479.8"/>
<polygon class="y" points="408.4,473.9 414.3,475.9 412.4,489.6 404.5,499.4 396.7,507.3 392.7,519.0 388.8,526.9 395.3,535.9 386.5,556.5 377.6,560.9 373.2,544.7 374.7,527.1 379.0,524.9 381.0,515.1 382.9,503.3 390.8,491.6 400.6,481.8"/></g>
<g fill="#eee" stroke="#9a9a9a" stroke-width="1"><polygon points="169.0,737.0 175.0,737.0 179.0,741.0 183.0,742.0 182.0,746.0 175.0,745.0 172.0,741.0"/><polygon points="186.0,740.0 191.0,741.0 197.0,744.0 198.0,747.0 192.0,747.0 187.0,744.0"/><polygon points="188.0,777.0 191.0,777.0 193.0,780.0 190.0,780.0"/><polygon points="222.0,775.0 225.0,776.0 229.0,782.0 229.0,785.0 226.0,784.0 223.0,779.0"/><polygon points="217.0,794.0 219.0,795.0 223.0,803.0 223.0,805.0 220.0,804.0 218.0,799.0"/></g><g fill="none" stroke="#4a4a4a" stroke-width="1"><polyline points="464.7,775.0 451.5,786.8 452.9,794.1"/><polyline points="541.9,837.0 541.9,841.9 534.5,849.2 527.2,855.3"/><polyline points="566.4,855.3 556.6,861.5 549.2,865.1 544.3,876.2"/><polyline points="513.2,804.4 516.2,811.8 528.0,814.7"/><polyline points="454.4,748.5 456.6,754.4"/></g>
<g id="labels"><text x="249.0" y="144.6">26</text>
<text x="306.2" y="118.5">28</text>
<text x="293.5" y="150.6">16</text>
<text x="321.9" y="168.6">34</text>
<text x="306.0" y="187.3">16</text>
<text x="277.5" y="186.1">43</text>
<text x="257.9" y="221.7">37</text>
<text x="298.3" y="220.4">42</text>
<text x="264.1" y="252.7">43</text>
<text x="225.3" y="283.6">39</text>
<text x="265.0" y="299.8">42</text>
<text x="313.5" y="295.4">70</text>
<text x="332.6" y="265.4">43</text>
<text x="198.8" y="352.7">80</text>
<text x="232.1" y="378.3">73</text>
<text x="268.5" y="374.8">77</text>
<text x="307.1" y="379.2">85</text>
<text x="345.0" y="344.5">113</text>
<text x="345.9" y="391.6">95</text>
<text x="400.4" y="185.4">35</text>
<text x="366.8" y="144.4">53</text>
<text x="421.5" y="205.5">35</text>
<text x="452.4" y="202.6">48</text>
<text x="427.4" y="159.9">61</text>
<text x="456.1" y="166.5">69</text>
<text x="371.8" y="241.5">52</text>
<text x="442.6" y="321.3">70</text>
<text x="431.6" y="253.6">50</text>
<text x="467.2" y="270.2">74</text>
<text x="368.2" y="293.3">60</text>
<text x="388.1" y="322.6">86</text>
<text x="404.0" y="340.7">57</text>
<text x="411.0" y="369.4">52</text>
<text x="440.8" y="379.3">57</text>
<text x="462.4" y="374.9">71</text>
<text x="445.4" y="398.0">64</text>
<text x="481.2" y="366.5">81</text>
<text x="502.1" y="363.8">95</text>
<text x="488.0" y="191.1">91</text>
<text x="583.1" y="177.5">94</text>
<text x="546.5" y="196.6">174</text>
<text x="499.4" y="255.4">104</text>
<text x="533.1" y="258.9">152</text>
<text x="574.3" y="262.6">139</text>
<text x="500.4" y="312.4">103</text>
<text x="525.7" y="332.6">92</text>
<text x="544.7" y="313.6">111</text>
<text x="576.0" y="315.4">115</text>
<text x="571.1" y="348.5">112</text>
<text x="582.1" y="365.7">108</text>
<text x="614.7" y="385.4">150</text>
<text x="546.0" y="351.6">90</text>
<text x="525.7" y="372.4">77</text>
<text x="547.5" y="393.2">90</text>
<text x="525.9" y="412.3">90</text>
<text x="505.3" y="419.7">89</text>
<text x="652.4" y="359.5">136</text>
<text x="604.3" y="430.1">120</text>
<text x="615.4" y="455.7">79</text>
<text x="664.3" y="393.3">165</text>
<text x="717.9" y="377.2">238</text>
<text x="702.5" y="428.6">203</text>
<text x="665.0" y="450.2">206</text>
<text x="688.2" y="501.3">151</text>
<text x="647.8" y="492.1">114</text>
<text x="506.3" y="447.7">109</text>
<text x="557.1" y="451.1">97</text>
<text x="527.3" y="474.7">106</text>
<text x="542.1" y="494.5">130</text>
<text x="606.7" y="511.7">155</text>
<text x="501.9" y="474.7">116</text>
<text x="499.7" y="505.1">121</text>
<text x="525.1" y="515.0">116</text>
<text x="553.3" y="518.3">169</text>
<text x="535.0" y="536.0">150</text>
<text x="465.6" y="526.3">149</text>
<text x="489.8" y="536.0">118</text>
<text x="603.4" y="547.0">119</text>
<text x="513.8" y="584.0">117</text>
<text x="418.9" y="645.3">462</text>
<text x="464.8" y="618.3">248</text>
<text x="439.0" y="611.5">144</text>
<text x="495.9" y="619.6">191</text>
<text x="476.3" y="657.5">325</text>
<text x="699.7" y="522.4">143</text>
<text x="653.2" y="541.6">108</text>
<text x="637.1" y="585.7">108</text>
<text x="610.6" y="628.3">102</text>
<text x="575.3" y="665.1">109</text>
<text x="644.4" y="671.0">115</text>
<text x="703.2" y="573.0">129</text>
<text x="713.5" y="659.2">125</text>
<text x="625.7" y="722.2">101</text>
<text x="659.4" y="722.8">162</text>
<text x="684.6" y="725.2">153</text>
<text x="442.6" y="746.0">319</text>
<text x="449.3" y="771.7">1147</text>
<text x="465.4" y="792.3">833</text>
<text x="565.7" y="769.1">500</text>
<text x="524.3" y="806.3">518</text>
<text x="504.4" y="825.4">425</text>
<text x="537.6" y="835.6">631</text>
<text x="547.4" y="858.3">507</text>
<text x="565.8" y="894.5">820</text>
<text x="653.8" y="857.3">370</text>
<text x="612.3" y="751.6">129</text>
<text x="657.0" y="767.5">166</text>
<text x="289.4" y="454.5">76</text>
<text x="348.2" y="506.3">118</text>
<text x="260.6" y="510.7">166</text>
<text x="235.0" y="537.7">211</text>
<text x="270.3" y="529.5">272</text>
<text x="262.9" y="562.4">140</text>
<text x="354.1" y="569.5">117</text>
<text x="368.2" y="421.9">95</text>
<text x="393.3" y="420.5">66</text>
<text x="414.3" y="437.5">55</text>
<text x="408.4" y="456.2">59</text>
<text x="440.8" y="442.1">46</text>
<text x="459.4" y="442.4">89</text>
<text x="449.2" y="461.1">89</text>
<text x="367.3" y="449.3">85</text>
<text x="378.0" y="486.6">70</text>
<text x="387.3" y="520.9">72</text></g>
</svg>

<svg class="abs" style="left:0;top:0" width="816" height="1056" viewBox="0 0 816 1056">
<text x="39.5" y="849" font-family="Liberation Serif" font-weight="bold" font-size="35" fill="#3b3f8e" transform="translate(39.5 0) scale(0.80 1) translate(-39.5 0)" textLength="96" lengthAdjust="spacingAndGlyphs">USDA</text>
<rect x="39.6" y="850.8" width="77.2" height="28.9" fill="#3f8a62"/>
<path d="M39.6,853.5 C60,852 90,851 116.8,851.6 L116.8,853.5 C90,853.5 60,855 39.6,857 Z" fill="#fff"/>
<path d="M39.6,859.5 C55,857 80,855.5 116.8,855.3 L116.8,856.8 C80,857.5 55,860 39.6,862.5 Z" fill="#fff"/>
<path d="M39.6,866 C60,861 85,858.5 116.8,857.8 L116.8,859.5 C85,860.5 60,863.5 39.6,868.5 Z" fill="#fff"/>
<path d="M60,853.2 C68,855 72,857 76,859" stroke="#fff" stroke-width="1.2" fill="none"/>
<path d="M38.5,907 A19.5,19.5 0 0 0 77.5,907 L72.5,907 A14.5,14.5 0 0 1 43.5,907 Z" fill="#13998a"/>
<path d="M60.3,887.8 C57,894 47,903 47,909.5 A13.3,13.3 0 0 0 73.6,909.5 C73.6,903 64,894 60.3,887.8 Z" fill="#1565b4"/>
<path d="M60.3,897 C58.5,900.5 53,905 53,909.5 A7.3,7.3 0 0 0 67.6,909.5 C67.6,905 62,900.5 60.3,897 Z" fill="#fff"/>
<text x="83.3" y="926.2" font-family="Liberation Sans" font-size="53" fill="#1b62b4" textLength="84.6" lengthAdjust="spacingAndGlyphs">NRCS</text>
<rect x="211" y="933" width="180" height="5" fill="#000"/>
<rect x="257" y="934.2" width="44.5" height="2.7" fill="#fff"/>
<g font-family="Liberation Sans" font-size="9.5" fill="#000">
<text x="208.5" y="949">0</text><text x="251" y="949">75</text><text x="292" y="949">150</text><text x="381" y="949">300</text>
<text x="392.5" y="937">Miles</text>
</g>
</svg>
<div id="frame"></div>
<div class="abs" id="title">Westwide SNOTEL Current Snow Water Equivalent (SWE) % of Normal</div>
<div class="abs" id="date">Dec 03, 2019</div>
<div class="abs lg" style="top:258.5px">Current Snow Water</div>
<div class="abs lg" style="top:272.5px">Equivalent (SWE)</div>
<div class="abs lg" style="top:286.5px">Basin-wide Percent</div>
<div class="abs lg" style="top:299.5px">of 1981-2010 Median</div>
<div class="box" style="top:315px;background:#fff"></div>
<div class="box" style="top:338px;background:#e60000"></div>
<div class="box" style="top:362px;background:#e69800"></div>
<div class="box" style="top:385px;background:#e6e600"></div>
<div class="box" style="top:408px;background:#4ce600"></div>
<div class="box" style="top:431px;background:#bef8e6"></div>
<div class="box" style="top:454px;background:#00a8e6"></div>
<div class="box" style="top:477px;background:#0a14aa"></div>
<div class="abs lt" style="top:318.8px">unavailable *</div>
<div class="abs lt" style="top:341.8px">&lt;50%</div>
<div class="abs lt" style="top:365.8px">50 - 69%</div>
<div class="abs lt" style="top:388.8px">70 - 89%</div>
<div class="abs lt" style="top:411.8px">90 - 109%</div>
<div class="abs lt" style="top:434.8px">110 - 129%</div>
<div class="abs lt" style="top:457.8px">130 - 149%</div>
<div class="abs lt" style="top:480.8px">&gt;= 150%</div>
<div class="abs note" style="left:20px;top:527px">*</div>
<div class="abs note" style="left:30px;top:527px">Data unavailable</div>
<div class="abs note" style="left:29px;top:538px">at time of posting</div>
<div class="abs note" style="left:29px;top:548px">or measurement</div>
<div class="abs note" style="left:29px;top:559px">is not representative</div>
<div class="abs note" style="left:29px;top:570px">at this time of year</div>
<div class="abs" style="left:38px;top:763px;font-size:11px;font-weight:bold;font-style:italic;color:#e60000;letter-spacing:0.4px">Provisional data</div>
<div class="abs" style="left:38px;top:777px;font-size:11px;font-weight:bold;font-style:italic;color:#e60000;letter-spacing:0.4px">subject to revision</div>
<div class="abs bt" style="left:38px;top:951.3px">The snow water equivalent percent of normal represents the current</div>
<div class="abs bt" style="left:38px;top:963.3px">snow water equivalent found at selected SNOTEL sites in or near the basin</div>
<div class="abs bt" style="left:38px;top:975.3px">compared to the average value for those sites on this day. Data based on</div>
<div class="abs bt" style="left:38px;top:987.3px">the first reading of the day (typically 00:00).</div>
<div class="abs bt" style="left:465px;top:951.3px">Prepared by:</div>
<div class="abs bt" style="left:465px;top:963.3px">USDA/NRCS National Water and Climate Center</div>
<div class="abs bt" style="left:465px;top:975.3px">Portland, Oregon</div>
<div class="abs bt" style="left:465px;top:987.3px">http://www.wcc.nrcs.usda.gov</div>
</body></html>
